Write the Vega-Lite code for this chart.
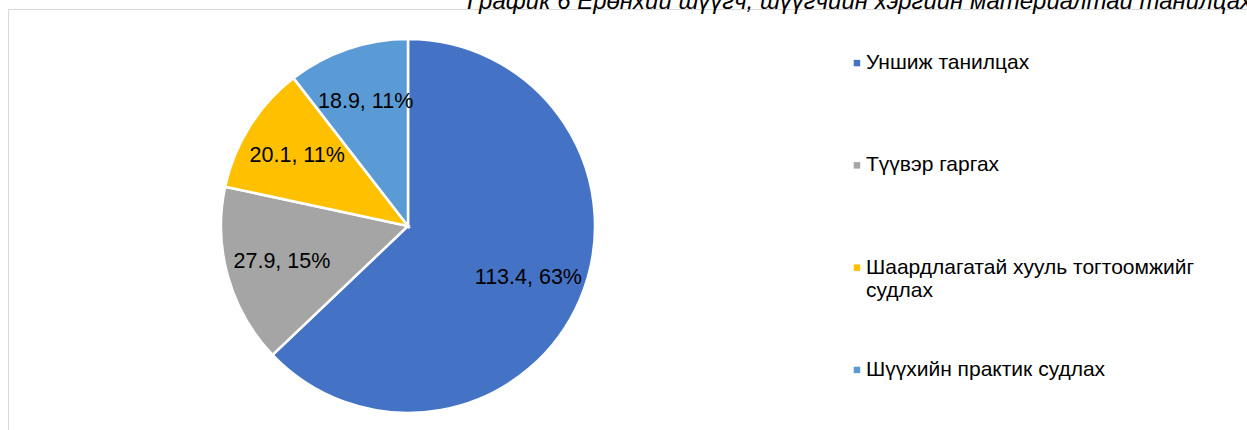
{
  "$schema": "https://vega.github.io/schema/vega-lite/v6.json",
  "width": 1239,
  "height": 421,
  "autosize": {"type": "none"},
  "padding": {"left": 8, "top": 9, "right": 0, "bottom": 0},
  "background": "white",
  "config": {"view": {"stroke": null}, "font": "Liberation Sans"},
  "title": {
    "text": "График 6 Ерөнхий шүүгч, шүүгчийн хэргийн материалтай танилцах",
    "anchor": "end",
    "frame": "group",
    "fontStyle": "italic",
    "fontWeight": "normal",
    "fontSize": 24,
    "font": "Liberation Sans",
    "color": "#000000",
    "baseline": "alphabetic",
    "offset": 0,
    "dy": 24,
    "dx": 5
  },
  "data": {
    "values": [
      {"order": 1, "item": "Уншиж танилцах", "legendText": "Уншиж танилцах", "value": 113.4, "label": "113.4, 63%"},
      {"order": 2, "item": "Түүвэр гаргах", "legendText": "Түүвэр гаргах", "value": 27.9, "label": "27.9, 15%"},
      {"order": 3, "item": "Шаардлагатай хууль тогтоомжийг судлах", "legendText": "Шаардлагатай хууль тогтоомжийг\nсудлах", "value": 20.1, "label": "20.1, 11%"},
      {"order": 4, "item": "Шүүхийн практик судлах", "legendText": "Шүүхийн практик судлах", "value": 18.9, "label": "18.9, 11%"}
    ]
  },
  "layer": [
    {
      "encoding": {
        "theta": {"field": "value", "type": "quantitative", "stack": true},
        "order": {"field": "order", "type": "quantitative"},
        "x": {
          "datum": 0.32284,
          "type": "quantitative",
          "scale": {"domain": [0, 1], "nice": false, "zero": false},
          "axis": {"orient": "top", "domain": true, "domainColor": "#D9D9D9", "domainWidth": 1, "ticks": false, "labels": false, "grid": false, "title": null, "minExtent": 0}
        },
        "y": {
          "datum": 0.51544,
          "type": "quantitative",
          "scale": {"domain": [0, 1], "nice": false, "zero": false, "reverse": true},
          "axis": {"orient": "left", "domain": true, "domainColor": "#D9D9D9", "domainWidth": 1, "ticks": false, "labels": false, "grid": false, "title": null, "minExtent": 0}
        }
      },
      "layer": [
        {
          "mark": {"type": "arc", "radius": 187, "stroke": "white", "strokeWidth": 2.5},
          "encoding": {
            "color": {
              "field": "item",
              "type": "nominal",
              "scale": {
                "domain": ["Уншиж танилцах", "Түүвэр гаргах", "Шаардлагатай хууль тогтоомжийг судлах", "Шүүхийн практик судлах"],
                "range": ["#4472C4", "#A5A5A5", "#FFC000", "#5B9BD5"]
              },
              "legend": null
            }
          }
        },
        {
          "mark": {"type": "text", "radius": 131, "fontSize": 21.5, "font": "Liberation Sans", "color": "#000000", "align": "center", "baseline": "middle"},
          "encoding": {
            "detail": {"field": "item", "type": "nominal"},
            "text": {"field": "label", "type": "nominal"}
          }
        }
      ]
    },
    {
      "encoding": {
        "x": {"datum": 0.6852, "type": "quantitative"},
        "y": {
          "field": "item",
          "type": "nominal",
          "scale": {
            "type": "point",
            "padding": 0.558,
            "domain": ["Уншиж танилцах", "Түүвэр гаргах", "Шаардлагатай хууль тогтоомжийг судлах", "Шүүхийн практик судлах"]
          },
          "axis": null
        },
        "yOffset": {"value": -3}
      },
      "layer": [
        {
          "mark": {"type": "square", "size": 42, "filled": true, "opacity": 1},
          "encoding": {
            "color": {"field": "item", "type": "nominal", "legend": null}
          }
        },
        {
          "mark": {"type": "text", "align": "left", "baseline": "middle", "dx": 9, "fontSize": 21, "font": "Liberation Sans", "color": "#000000", "lineBreak": "\n", "lineHeight": 23},
          "encoding": {
            "text": {"field": "legendText", "type": "nominal"}
          }
        }
      ]
    }
  ],
  "resolve": {"scale": {"y": "independent"}}
}
